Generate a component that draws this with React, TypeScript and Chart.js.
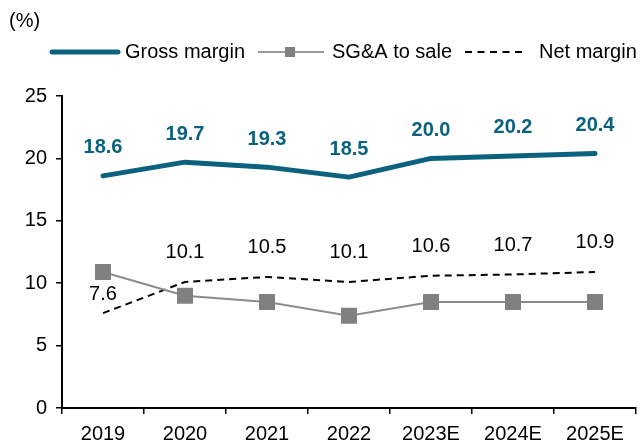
import React, { useEffect, useRef } from "react";
import { Chart, registerables } from "chart.js";

Chart.register(...registerables);

const categories = ["2019", "2020", "2021", "2022", "2023E", "2024E", "2025E"];
const grossMargin = [18.6, 19.7, 19.3, 18.5, 20.0, 20.2, 20.4];
const sgaToSale = [10.9, 9.0, 8.5, 7.4, 8.5, 8.5, 8.5];
const netMargin = [7.6, 10.1, 10.5, 10.1, 10.6, 10.7, 10.9];
const yTicks = [0, 5, 10, 15, 20, 25];

const FONT = '"Liberation Sans", Arial, sans-serif';
const TEAL = "rgb(12,98,126)";
const GRAY = "#808080";

const overlayPlugin = {
  id: "overlay",
  afterDatasetsDraw(chart: any) {
    const ctx = chart.ctx;
    ctx.save();
    ctx.font = `20px ${FONT}`;
    ctx.fillStyle = "#000";
    ctx.textAlign = "left";
    ctx.textBaseline = "middle";
    ctx.fillText("(%)", 9, 21);

    const ly = 52;
    ctx.lineCap = "round";
    ctx.strokeStyle = TEAL;
    ctx.lineWidth = 5;
    ctx.beginPath();
    ctx.moveTo(52, ly);
    ctx.lineTo(118, ly);
    ctx.stroke();
    ctx.fillStyle = "#000";
    ctx.fillText("Gross margin", 125, ly);

    ctx.lineCap = "butt";
    ctx.strokeStyle = "#999";
    ctx.lineWidth = 2;
    ctx.beginPath();
    ctx.moveTo(258, ly);
    ctx.lineTo(324, ly);
    ctx.stroke();
    ctx.fillStyle = GRAY;
    ctx.fillRect(285, ly - 5, 10, 10);
    ctx.fillStyle = "#000";
    ctx.fillText("SG&A to sale", 332, ly);

    ctx.strokeStyle = "#000";
    ctx.lineWidth = 2;
    ctx.setLineDash([7, 5.5]);
    ctx.beginPath();
    ctx.moveTo(465, ly);
    ctx.lineTo(523, ly);
    ctx.stroke();
    ctx.setLineDash([]);
    ctx.fillText("Net margin", 539, ly);

    ctx.textAlign = "center";
    const gMeta = chart.getDatasetMeta(0);
    ctx.font = `bold 20px ${FONT}`;
    ctx.fillStyle = TEAL;
    gMeta.data.forEach((pt: any, i: number) => {
      ctx.fillText(grossMargin[i].toFixed(1), pt.x, pt.y - 28);
    });
    const nMeta = chart.getDatasetMeta(2);
    ctx.font = `20px ${FONT}`;
    ctx.fillStyle = "#000";
    nMeta.data.forEach((pt: any, i: number) => {
      const off = i === 0 ? 19 : 29;
      ctx.fillText(netMargin[i].toFixed(1), pt.x, pt.y - off);
    });
    ctx.restore();
  },
};

export default function App() {
  const ref = useRef<HTMLCanvasElement>(null);
  useEffect(() => {
    if (!ref.current) return;
    const chart = new Chart(ref.current, {
      type: "line",
      data: {
        labels: categories,
        datasets: [
          {
            label: "Gross margin",
            data: grossMargin,
            borderColor: TEAL,
            borderWidth: 5,
            borderCapStyle: "round",
            borderJoinStyle: "round",
            pointRadius: 0,
            tension: 0,
          },
          {
            label: "SG&A to sale",
            data: sgaToSale,
            borderColor: "#8c8c8c",
            borderWidth: 2,
            pointStyle: "rect",
            pointRadius: 11.3,
            pointBackgroundColor: GRAY,
            pointBorderColor: GRAY,
            pointBorderWidth: 0,
            tension: 0,
          },
          {
            label: "Net margin",
            data: netMargin,
            borderColor: "#000",
            borderWidth: 2,
            borderDash: [7, 5],
            pointRadius: 0,
            tension: 0,
          },
        ],
      },
      options: {
        animation: false,
        responsive: false,
        events: [],
        layout: { autoPadding: false, padding: { top: 96, right: 5, left: 0, bottom: 0 } },
        plugins: { legend: { display: false }, tooltip: { enabled: false } },
        scales: {
          x: {
            offset: true,
            grid: {
              offset: true,
              drawOnChartArea: false,
              drawTicks: true,
              tickLength: 6,
              color: "#000",
              lineWidth: 1.5,
            },
            border: { display: true, color: "#000", width: 2 },
            ticks: {
              color: "#000",
              font: { family: FONT, size: 20 },
              padding: 8,
              maxRotation: 0,
            },
            afterFit: (s: any) => {
              s.height = 35;
              s.paddingLeft = 0;
              s.paddingRight = 0;
            },
          },
          y: {
            min: 0,
            max: 25,
            afterBuildTicks: (s: any) => {
              s.ticks = yTicks.map((v) => ({ value: v }));
            },
            grid: {
              drawOnChartArea: false,
              drawTicks: true,
              tickLength: 6,
              color: "#000",
              lineWidth: 1.5,
            },
            border: { display: true, color: "#000", width: 2 },
            ticks: {
              color: "#000",
              font: { family: FONT, size: 20 },
              padding: 9,
            },
            afterFit: (s: any) => {
              s.width = 62;
            },
          },
        },
      },
      plugins: [overlayPlugin],
    });
    return () => chart.destroy();
  }, []);
  return (
    <div style={{ position: "fixed", left: 0, top: 0, width: 641, height: 443, background: "#fff" }}>
      <canvas ref={ref} width={641} height={443} />
    </div>
  );
}
